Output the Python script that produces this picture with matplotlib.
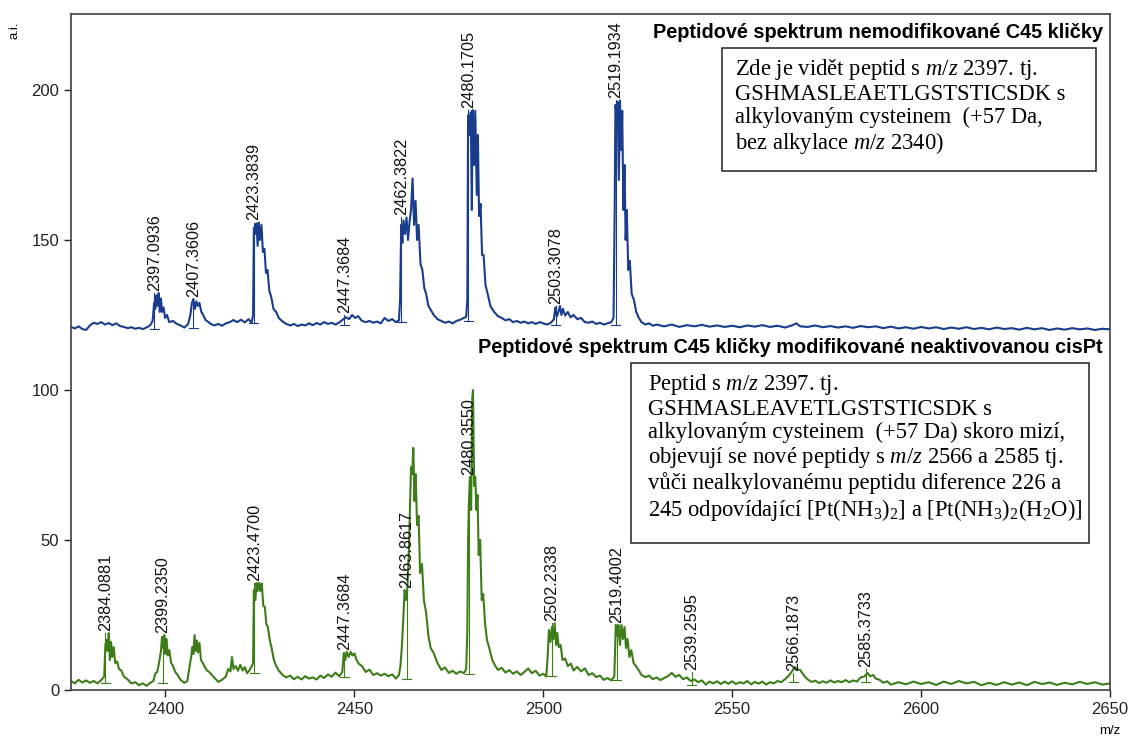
import matplotlib
matplotlib.use("Agg")
import matplotlib.pyplot as plt
from matplotlib.patches import Rectangle

plt.rcParams['font.family'] = ['Liberation Sans', 'DejaVu Sans']
plt.rcParams['mathtext.fontset'] = 'custom'
plt.rcParams['mathtext.rm'] = 'Liberation Serif'
plt.rcParams['mathtext.it'] = 'Liberation Serif:italic'

# spectrum of the unmodified loop (drawn on top)
top_points = [
    (2375, 121.0), (2376, 120.5), (2377, 121.2), (2378, 120.3), (2379, 120.0), (2380, 121.5),
    (2381, 122.4), (2382, 122.0), (2383, 122.6), (2384, 121.8), (2385, 122.3), (2386, 121.6),
    (2387, 122.2), (2388, 121.3), (2389, 121.0), (2390, 120.6), (2391, 120.9), (2392, 120.4),
    (2393, 120.7), (2394, 120.3), (2395, 120.8), (2396, 121.6),
    (2396.6, 123), (2397.0, 129), (2397.3, 127), (2397.6, 131.5), (2397.9, 128), (2398.2, 132.3),
    (2398.5, 126), (2398.8, 130.5), (2399.1, 126), (2399.5, 127.5), (2399.9, 124), (2400.4, 125),
    (2401, 122.6), (2402, 123), (2403, 122), (2404, 121.5), (2405, 120.8), (2406, 122),
    (2406.6, 125), (2407.0, 129), (2407.4, 130.3), (2407.8, 127), (2408.2, 129.5), (2408.6, 128),
    (2409.0, 129), (2409.5, 126), (2410, 125), (2410.6, 123.3), (2411.2, 122.8), (2412, 122),
    (2413, 121.5), (2414, 122), (2415, 121.4), (2416, 122.2), (2417, 122.6), (2418, 123.3),
    (2419, 122.6), (2420, 123.4), (2421, 122.5), (2422, 123.6), (2422.8, 122.4),
    (2423.2, 125), (2423.4, 154), (2423.8, 152), (2424.1, 155.5), (2424.4, 148), (2424.7, 155.8),
    (2425.0, 150), (2425.4, 155), (2425.8, 146), (2426.2, 147), (2426.6, 139), (2427, 140),
    (2427.5, 133), (2428, 131), (2428.6, 127), (2429.3, 126), (2430, 124), (2431, 122.8),
    (2432, 122), (2433, 121.5), (2434, 122), (2435, 121.3), (2436, 121.8), (2437, 121.5),
    (2438, 122.2), (2439, 121.6), (2440, 122.3), (2441, 121.8), (2442, 122.6), (2443, 122),
    (2444, 122.4), (2445, 121.8), (2446, 122.5),
    (2447, 123.5), (2447.8, 124.2), (2448.6, 123.6), (2449.4, 125), (2450.2, 124), (2451, 124.6),
    (2452, 123), (2453, 122.6), (2454, 123), (2455, 122.4), (2456, 122.8), (2457, 122.2),
    (2458, 124), (2459, 123), (2460, 123.6), (2461, 122.6), (2461.8, 123.2),
    (2462.1, 130), (2462.4, 155), (2462.7, 149), (2463.0, 156.5), (2463.4, 152), (2463.8, 157.5),
    (2464.2, 150), (2464.6, 156), (2465.0, 160), (2465.4, 170.5), (2465.8, 155), (2466.2, 163),
    (2466.6, 150), (2467, 155), (2467.5, 142), (2468, 140), (2468.5, 134), (2469, 132),
    (2469.6, 128), (2470.3, 126.5), (2471, 125), (2472, 123.6), (2473, 123), (2474, 122.4),
    (2475, 122.8), (2476, 122.2), (2477, 123), (2478, 123.4), (2479, 124), (2479.6, 124.4),
    (2479.9, 130), (2480.1, 191.5), (2480.5, 185), (2480.8, 192.5), (2481.1, 160), (2481.3, 193.3),
    (2481.7, 175), (2482.0, 193), (2482.4, 165), (2482.7, 185), (2483, 158), (2483.4, 162),
    (2483.8, 145), (2484.2, 145), (2484.7, 135), (2485.3, 132), (2486, 128), (2487, 126),
    (2488, 124.6), (2489, 124), (2490, 123.2), (2491, 123.6), (2492, 122.6), (2493, 123),
    (2494, 122.4), (2495, 122.8), (2496, 122.2), (2497, 122.6), (2498, 122), (2499, 122.6),
    (2500, 122.2), (2501, 121.8), (2502, 122.4), (2502.8, 123.5),
    (2503.2, 127.5), (2503.6, 124.5), (2504.0, 126), (2504.4, 128), (2504.8, 125), (2505.2, 127),
    (2505.8, 124.8), (2506.5, 126), (2507.2, 124.2), (2508, 125), (2509, 123.6), (2510, 124),
    (2511, 122.6), (2512, 122.4), (2513, 122.8), (2514, 122), (2515, 122.4), (2516, 121.8),
    (2517, 122.2), (2518, 122.6), (2518.6, 124),
    (2518.9, 160), (2519.1, 195), (2519.4, 192), (2519.7, 196), (2520.0, 170), (2520.3, 196.5),
    (2520.6, 180), (2520.9, 193), (2521.2, 160), (2521.5, 175), (2521.8, 150), (2522.1, 160),
    (2522.5, 140), (2522.9, 143), (2523.4, 132), (2524, 130), (2524.6, 126), (2525.3, 124),
    (2526, 122.6), (2527, 121.8), (2528, 122.2), (2529, 121.4), (2530, 121.8), (2532, 121.2),
    (2534, 121.8), (2536, 121.0), (2538, 121.6), (2540, 121.2), (2542, 121.7), (2544, 121.1),
    (2546, 121.5), (2548, 121.0), (2550, 121.4), (2552, 120.9), (2554, 121.5), (2556, 121.1),
    (2558, 121.6), (2560, 121.0), (2562, 121.4), (2564, 120.8), (2566, 121.6), (2567, 122.2),
    (2568, 121.2), (2570, 121.0), (2572, 121.5), (2574, 120.9), (2576, 121.3), (2578, 120.8),
    (2580, 121.2), (2582, 120.7), (2584, 121.3), (2586, 120.9), (2588, 121.2), (2590, 120.6),
    (2592, 121.1), (2594, 120.5), (2596, 120.9), (2598, 120.4), (2600, 121.0), (2602, 120.5),
    (2604, 120.9), (2606, 120.3), (2608, 120.8), (2610, 120.4), (2612, 120.9), (2614, 120.3),
    (2616, 120.7), (2618, 120.2), (2620, 120.8), (2622, 120.3), (2624, 120.6), (2626, 120.1),
    (2628, 120.7), (2630, 120.2), (2632, 120.6), (2634, 120.0), (2636, 120.5), (2638, 120.1),
    (2640, 120.6), (2642, 120.2), (2644, 120.5), (2646, 120.0), (2648, 120.4), (2650, 120.2),
]

# spectrum of the loop modified with non-activated cisPt (bottom)
bottom_points = [
    (2375, 3.0), (2376, 2.2), (2377, 3.4), (2378, 2.5), (2379, 3.2), (2380, 2.4), (2381, 3.0),
    (2382, 2.2), (2383, 3.3), (2383.8, 4.5),
    (2384.1, 15), (2384.4, 16.7), (2384.7, 13), (2385.0, 19), (2385.3, 10), (2385.6, 16),
    (2385.9, 11), (2386.3, 14.3), (2386.7, 9), (2387.2, 9.5), (2387.7, 7), (2388.3, 6.5),
    (2389, 4.5), (2390, 3.5), (2391, 2.2), (2392, 2.6), (2393, 1.6), (2394, 2.2), (2395, 1.4),
    (2396, 2.4), (2396.8, 3), (2397.3, 5.5),
    (2397.8, 6), (2398.3, 9), (2398.8, 13), (2399.1, 17.7), (2399.4, 14), (2399.7, 18.3),
    (2400.0, 12), (2400.3, 17), (2400.6, 11.5), (2401, 13.3), (2401.5, 9), (2402, 8),
    (2402.6, 6), (2403.2, 5), (2404, 3.4), (2405, 2.4), (2405.8, 3), (2406.4, 8),
    (2406.8, 11), (2407.1, 14.3), (2407.4, 12), (2407.7, 18.3), (2408.0, 13), (2408.3, 16.5),
    (2408.6, 12.5), (2409, 15.7), (2409.4, 10), (2409.9, 9), (2410.4, 7.7), (2411, 6.5),
    (2411.6, 6), (2412.3, 5), (2413, 4), (2414, 2.7), (2415, 3.4), (2416, 4.5), (2416.6, 7),
    (2417.2, 6.2), (2417.6, 11), (2418, 7), (2418.6, 8), (2419.2, 6.4), (2419.8, 8.4),
    (2420.4, 6.5), (2421, 7.6), (2421.6, 5.6), (2422.2, 6.5), (2422.8, 7.8), (2423.2, 9),
    (2423.4, 33.3), (2423.8, 30), (2424.1, 35.7), (2424.4, 33), (2424.8, 35.7), (2425.1, 33),
    (2425.5, 35.5), (2425.9, 28), (2426.3, 27.7), (2426.7, 22), (2427.1, 21), (2427.6, 16.7),
    (2428.1, 14), (2428.7, 10), (2429.3, 8), (2430, 6.5), (2431, 5), (2432, 4.2), (2433, 4.8),
    (2434, 3.6), (2435, 4.4), (2436, 3.5), (2437, 4.6), (2438, 3.8), (2439, 4.2), (2440, 3.5),
    (2441, 4.8), (2442, 4.0), (2443, 5.2), (2444, 4.4), (2445, 5.8), (2446, 4.6), (2446.8, 6),
    (2447.2, 12.3), (2447.6, 10), (2448, 12.7), (2448.5, 11), (2449, 12.7), (2449.5, 11.5),
    (2450, 12.2), (2450.6, 10), (2451.2, 8.7), (2452, 8), (2453, 6), (2454, 6.8), (2455, 5),
    (2456, 5.6), (2457, 4.8), (2458, 5.4), (2459, 4.6), (2460, 5.2), (2461, 3.8), (2461.8, 5),
    (2462.2, 8), (2462.6, 15), (2463.0, 25), (2463.3, 33.3), (2463.7, 30), (2464.0, 33.3),
    (2464.4, 45), (2464.7, 60), (2465.0, 74.3), (2465.3, 72), (2465.6, 80.7), (2465.9, 63),
    (2466.2, 72), (2466.6, 55), (2467, 58), (2467.4, 39), (2467.9, 42), (2468.4, 30),
    (2469, 25.7), (2469.6, 18), (2470.2, 14), (2471, 12.3), (2472, 9), (2473, 6.7), (2474, 7.5),
    (2475, 5.7), (2476, 6.4), (2477, 5.4), (2478, 6.2), (2479, 5.6), (2479.6, 7),
    (2479.9, 20), (2480.1, 49), (2480.3, 62), (2480.6, 71), (2480.9, 60), (2481.2, 97),
    (2481.4, 100), (2481.7, 68), (2482.0, 71), (2482.3, 60), (2482.6, 65), (2482.9, 45),
    (2483.3, 50), (2483.7, 30), (2484.1, 32), (2484.6, 22), (2485.1, 16.7), (2485.7, 14),
    (2486.5, 10), (2487.3, 8), (2488, 6.7), (2489, 7.4), (2490, 5.8), (2491, 6.6), (2492, 5.4),
    (2493, 6.2), (2494, 5.0), (2495, 6.0), (2496, 7.2), (2497, 5.6), (2498, 6.4), (2499, 4.8),
    (2500, 5.4), (2500.8, 4.5),
    (2501.2, 12), (2501.5, 20), (2501.9, 16), (2502.3, 21), (2502.7, 17), (2503.0, 22.3),
    (2503.4, 15), (2503.7, 19), (2504.1, 14.3), (2504.6, 15), (2505.1, 10), (2505.8, 10.5),
    (2506.5, 8), (2507.3, 8.8), (2508, 6.5), (2509, 7.7), (2510, 6.2), (2511, 7.2), (2512, 5),
    (2513, 5.6), (2514, 4.3), (2515, 4.8), (2516, 3.4), (2517, 4.0), (2518, 3.2), (2518.8, 4.5),
    (2519.2, 21.7), (2519.6, 18), (2519.9, 21.7), (2520.3, 15), (2520.7, 21.7), (2521.1, 17),
    (2521.5, 21), (2521.9, 14), (2522.3, 17), (2522.8, 11), (2523.3, 13.3), (2523.9, 9),
    (2524.5, 8), (2525.2, 6.7), (2526, 5), (2527, 4.3), (2528, 4.8), (2529, 3.6), (2530, 4.2),
    (2531, 3.3), (2532, 4.0), (2533, 4.6), (2534, 5.7), (2535, 4.4), (2536, 5.0), (2537, 3.6),
    (2538, 4.2), (2539, 3.0), (2540, 3.5), (2541, 2.6), (2542, 3.2), (2543, 1.8), (2544, 2.8),
    (2545, 2.2), (2546, 2.9), (2547, 2.0), (2548, 2.8), (2549, 2.1), (2550, 2.9), (2551, 2.0),
    (2552, 2.6), (2553, 2.2), (2554, 3.0), (2555, 1.9), (2556, 2.7), (2557, 2.1), (2558, 2.8),
    (2559, 1.8), (2560, 2.6), (2561, 2.2), (2562, 3.0), (2563, 2.6), (2564, 3.6), (2565, 4.8),
    (2566, 6.5), (2566.6, 7.7), (2567.3, 6.8), (2568, 6.7), (2569, 4.8), (2570, 3.5),
    (2571, 2.7), (2572, 3.1), (2573, 2.3), (2574, 2.9), (2575, 2.4), (2576, 3.2), (2577, 2.5),
    (2578, 3.0), (2579, 2.6), (2580, 3.3), (2581, 2.6), (2582, 3.2), (2583, 2.8), (2584, 4.2),
    (2585, 4.5), (2585.8, 5.7), (2586.5, 4.6), (2587.3, 5.0), (2588, 3.8), (2589, 3.4),
    (2590, 2.4), (2591, 2.9), (2592, 1.8), (2594, 2.6), (2596, 1.9), (2598, 2.8), (2600, 2.0),
    (2602, 2.6), (2604, 1.7), (2606, 2.8), (2608, 2.0), (2610, 3.0), (2612, 2.2), (2614, 2.7),
    (2616, 1.6), (2618, 2.4), (2620, 1.7), (2622, 2.6), (2624, 1.8), (2626, 2.5), (2628, 1.6),
    (2630, 2.7), (2632, 2.0), (2634, 2.5), (2636, 1.7), (2638, 2.4), (2640, 1.9), (2642, 2.7),
    (2644, 2.0), (2646, 2.6), (2648, 1.8), (2650, 2.2),
]

# peak labels and the height where each label starts
top_labels = ['2397.0936', '2407.3606', '2423.3839', '2447.3684',
              '2462.3822', '2480.1705', '2503.3078', '2519.1934']
top_label_heights = [132.3, 130.3, 155.8, 125.0, 157.5, 193.3, 128.0, 196.5]

bottom_labels = ['2384.0881', '2399.2350', '2423.4700', '2447.3684', '2463.8617', '2480.3550',
                 '2502.2338', '2519.4002', '2539.2595', '2566.1873', '2585.3733']
bottom_label_heights = [19.0, 18.3, 35.7, 12.7, 33.3, 71.0, 22.3, 21.7, 6.0, 5.5, 7.0]

title_top = 'Peptidové spektrum nemodifikované C45 kličky'
title_bottom = 'Peptidové spektrum C45 kličky modifikované neaktivovanou cisPt'

note_top = ('Zde je vidět peptid s $m/z$ 2397. tj.\n'
            'GSHMASLEAETLGSTSTICSDK s\n'
            'alkylovaným cysteinem  (+57 Da,\n'
            'bez alkylace $m/z$ 2340)')
note_bottom = ('Peptid s $m/z$ 2397. tj.\n'
               'GSHMASLEAVETLGSTSTICSDK s\n'
               'alkylovaným cysteinem  (+57 Da) skoro mizí,\n'
               'objevují se nové peptidy s $m/z$ 2566 a 2585 tj.\n'
               'vůči nealkylovanému peptidu diference 226 a\n'
               '245 odpovídající [Pt(NH$_3$)$_2$] a [Pt(NH$_3$)$_2$(H$_2$O)]')

blue = '#1a3c8c'
green = '#3d7d19'

fig = plt.figure(figsize=(11.28, 7.38), dpi=100)
ax = fig.add_axes([71 / 1128, 48 / 738, 1039 / 1128, 676 / 738])

top_mz = [p[0] for p in top_points]
top_int = [p[1] for p in top_points]
bot_mz = [p[0] for p in bottom_points]
bot_int = [p[1] for p in bottom_points]

ax.plot(top_mz, top_int, color=blue, lw=1.5)
ax.plot(bot_mz, bot_int, color=green, lw=1.5)


def add_labels(labels, heights, mz, inten, color):
    for lab, h in zip(labels, heights):
        m = float(lab)
        # local baseline under the peak, for the small pick marker
        near = [v for x, v in zip(mz, inten) if abs(x - m) < 4]
        base = min(near)
        ax.plot([m - 1.2, m + 1.2], [base, base], color=color, lw=0.8)
        ax.plot([m, m], [base, h], color=color, lw=0.8)
        ax.annotate(lab, (m, h), xytext=(0, 1.5), textcoords='offset points',
                    rotation=90, ha='center', va='bottom', fontsize=11.7, color='#111111')


add_labels(top_labels, top_label_heights, top_mz, top_int, blue)
add_labels(bottom_labels, bottom_label_heights, bot_mz, bot_int, green)

ax.set_xlim(2375, 2650)
ax.set_ylim(0, 225.3)
ax.set_xticks([2400, 2450, 2500, 2550, 2600, 2650])
ax.set_yticks([0, 50, 100, 150, 200])
ax.tick_params(direction='out', length=5, width=1, labelsize=12, colors='#222222')
for s in ax.spines.values():
    s.set_linewidth(1.2)
    s.set_color('#404040')

ax.text(0.9933, 0.973, title_top, transform=ax.transAxes, ha='right', va='center',
        fontsize=14.3, fontweight='bold')
ax.text(0.9933, 0.507, title_bottom, transform=ax.transAxes, ha='right', va='center',
        fontsize=14.3, fontweight='bold')

ax.add_patch(Rectangle((0.6266, 0.7678), 0.9865 - 0.6266, 0.9497 - 0.7678,
                       transform=ax.transAxes, fill=False, ec='#222222', lw=1.1))
ax.text(0.639, 0.937, note_top, transform=ax.transAxes, ha='left', va='top',
        fontsize=16.3, family='Liberation Serif', linespacing=1.12)

ax.add_patch(Rectangle((0.539, 0.2175), 0.9798 - 0.539, 0.4837 - 0.2175,
                       transform=ax.transAxes, fill=False, ec='#222222', lw=1.1))
ax.text(0.5553, 0.470, note_bottom, transform=ax.transAxes, ha='left', va='top',
        fontsize=16.3, family='Liberation Serif', linespacing=1.12)

fig.text(14 / 1128, 1 - 30 / 738, 'a.i.', rotation=90, ha='center', va='center', fontsize=9.5)
ax.text(1.0, -0.061, 'm/z', transform=ax.transAxes, ha='center', va='center', fontsize=9.5)

plt.savefig('out.png', dpi=100)
